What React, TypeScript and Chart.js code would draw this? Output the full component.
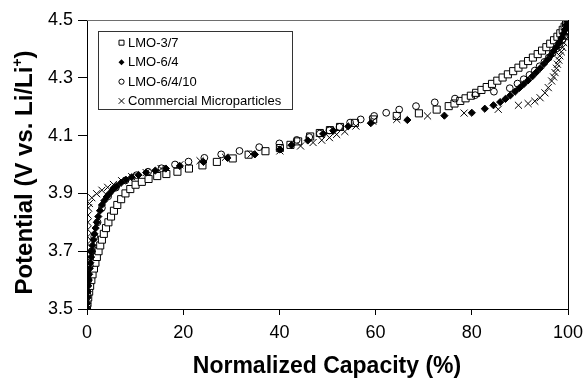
import React, { useEffect, useRef } from "react";
import { Chart, registerables } from "chart.js";

Chart.register(...registerables);

// LMO-3/7 (open squares): [capacity %, potential V]
const lmo37Cap = [0, 0.1, 0.25, 0.45, 0.65, 0.9, 1.15, 1.45, 1.75, 2.05, 2.4, 2.75, 3.1, 3.5, 3.95, 4.45, 5.0, 5.6, 6.3, 7.1, 8.0, 9.0, 10.1, 11.4, 12.8, 14.6, 16.5, 18.8, 21.2, 24.0, 27.0, 30.3, 33.6, 37.1, 40.1, 42.3, 43.9, 46.4, 48.4, 50.5, 52.6, 55.7, 59.5, 64.4, 69.0, 72.7, 75.2, 76.4, 77.6, 78.7, 79.8, 80.9, 82.0, 83.1, 84.2, 85.3, 86.4, 87.5, 88.6, 89.7, 90.7, 91.7, 92.7, 93.7, 94.6, 95.5, 96.3, 97.1, 97.8, 98.4, 98.9, 99.3, 99.6, 99.9];
const lmo37V = [3.5, 3.52, 3.54, 3.56, 3.58, 3.6, 3.62, 3.64, 3.66, 3.68, 3.7, 3.72, 3.74, 3.76, 3.78, 3.8, 3.82, 3.84, 3.86, 3.88, 3.9, 3.915, 3.93, 3.94, 3.95, 3.96, 3.967, 3.975, 3.986, 3.997, 4.009, 4.021, 4.034, 4.046, 4.057, 4.068, 4.08, 4.097, 4.109, 4.119, 4.13, 4.144, 4.156, 4.168, 4.177, 4.19, 4.202, 4.211, 4.22, 4.229, 4.238, 4.248, 4.258, 4.268, 4.279, 4.29, 4.301, 4.312, 4.323, 4.335, 4.346, 4.358, 4.37, 4.382, 4.394, 4.406, 4.418, 4.43, 4.442, 4.454, 4.466, 4.477, 4.488, 4.498];

// LMO-6/4 (filled diamonds)
const lmo64Cap = [0, 0.05, 0.1, 0.18, 0.25, 0.35, 0.45, 0.55, 0.7, 0.85, 1.0, 1.15, 1.35, 1.55, 1.8, 2.05, 2.35, 2.7, 3.1, 3.6, 4.1, 4.7, 5.4, 6.2, 7.1, 8.1, 9.3, 10.7, 12.3, 14.2, 16.4, 19.3, 24.2, 29.2, 34.9, 40.1, 42.5, 45.9, 49.1, 51.2, 54.3, 59.0, 66.6, 74.3, 80.0, 82.7, 84.5, 85.9, 87.0, 88.0, 89.0, 89.9, 90.8, 91.7, 92.6, 93.4, 94.2, 95.0, 95.7, 96.4, 97.0, 97.6, 98.1, 98.6, 99.0, 99.4, 99.7, 99.9];
const lmo64V = [3.5, 3.52, 3.54, 3.56, 3.58, 3.6, 3.62, 3.64, 3.66, 3.68, 3.7, 3.72, 3.74, 3.76, 3.78, 3.8, 3.82, 3.84, 3.86, 3.875, 3.888, 3.9, 3.913, 3.925, 3.937, 3.947, 3.956, 3.964, 3.972, 3.979, 3.986, 3.995, 4.009, 4.023, 4.035, 4.052, 4.067, 4.083, 4.106, 4.117, 4.132, 4.143, 4.154, 4.169, 4.179, 4.193, 4.205, 4.216, 4.227, 4.239, 4.252, 4.265, 4.278, 4.291, 4.305, 4.319, 4.333, 4.348, 4.362, 4.377, 4.392, 4.407, 4.422, 4.437, 4.452, 4.467, 4.482, 4.497];

// LMO-6/4/10 (open circles)
const lmo6410Cap = [0, 0.1, 0.3, 0.6, 1.0, 1.5, 2.2, 3.1, 4.4, 6.0, 8.0, 10.3, 12.7, 15.5, 18.3, 21.1, 24.4, 27.9, 31.7, 35.8, 40.0, 43.6, 46.2, 48.4, 50.4, 52.5, 54.7, 56.9, 59.7, 62.2, 64.9, 68.4, 72.3, 76.5, 80.7, 84.6, 87.9, 89.5, 90.8, 92.0, 93.1, 94.1, 95.1, 96.0, 96.8, 97.5, 98.2, 98.8, 99.3, 99.6, 99.8, 100];
const lmo6410V = [3.5, 3.55, 3.6, 3.65, 3.7, 3.75, 3.8, 3.85, 3.89, 3.92, 3.945, 3.963, 3.975, 3.987, 4.0, 4.01, 4.023, 4.035, 4.047, 4.06, 4.073, 4.085, 4.095, 4.107, 4.118, 4.13, 4.145, 4.156, 4.168, 4.179, 4.19, 4.202, 4.215, 4.228, 4.24, 4.252, 4.264, 4.28, 4.295, 4.31, 4.325, 4.34, 4.355, 4.37, 4.385, 4.4, 4.415, 4.43, 4.445, 4.46, 4.475, 4.49];

// Commercial Microparticles (crosses)
const commCap = [0, 0.01, 0.02, 0.03, 0.04, 0.05, 0.06, 0.07, 0.08, 0.1, 0.12, 0.15, 0.18, 0.22, 0.3, 0.5, 1.0, 2.0, 3.1, 4.3, 5.5, 7.2, 9.3, 12.3, 15.4, 19.3, 23.5, 28.8, 34.1, 40.1, 44.4, 47.0, 48.8, 50.4, 51.9, 53.6, 55.9, 59.4, 64.4, 70.8, 78.4, 85.5, 89.7, 91.7, 93.1, 94.2, 95.2, 95.9, 96.6, 97.0, 97.3, 97.6, 97.8, 98.1, 98.3, 98.6, 98.9, 99.1, 99.4, 99.6, 99.7, 99.9];
const commV = [3.5, 3.525, 3.55, 3.575, 3.6, 3.625, 3.65, 3.675, 3.7, 3.725, 3.75, 3.775, 3.8, 3.825, 3.85, 3.865, 3.885, 3.899, 3.911, 3.921, 3.931, 3.944, 3.958, 3.972, 3.986, 3.999, 4.013, 4.025, 4.036, 4.047, 4.064, 4.076, 4.084, 4.093, 4.104, 4.114, 4.133, 4.15, 4.156, 4.168, 4.178, 4.191, 4.205, 4.211, 4.219, 4.231, 4.248, 4.266, 4.289, 4.303, 4.318, 4.333, 4.347, 4.361, 4.376, 4.39, 4.405, 4.422, 4.44, 4.457, 4.474, 4.492];

const seriesLabels = ["LMO-3/7", "LMO-6/4", "LMO-6/4/10", "Commercial Microparticles"];
const xTickValues = [0, 20, 40, 60, 80, 100];
const yTickValues = [3.5, 3.7, 3.9, 4.1, 4.3, 4.5];
const xTitle = "Normalized Capacity (%)";
const yTitleMain = "Potential (V vs. Li/Li";
const yTitleSup = "+";
const yTitleEnd = ")";

const FONT = "'Liberation Sans', Arial, Helvetica, sans-serif";

function toPoints(xs: number[], ys: number[]) {
  return xs.map((x, i) => ({ x, y: ys[i] }));
}

function drawMarker(ctx: CanvasRenderingContext2D, kind: number, x: number, y: number) {
  ctx.save();
  ctx.strokeStyle = "#000";
  ctx.fillStyle = "#000";
  ctx.lineWidth = 1;
  ctx.beginPath();
  if (kind === 0) {
    ctx.rect(x - 2.5, y - 2.5, 5, 5);
    ctx.fillStyle = "#fff";
    ctx.fill();
    ctx.stroke();
  } else if (kind === 1) {
    ctx.moveTo(x, y - 3);
    ctx.lineTo(x + 3, y);
    ctx.lineTo(x, y + 3);
    ctx.lineTo(x - 3, y);
    ctx.closePath();
    ctx.fill();
  } else if (kind === 2) {
    ctx.arc(x, y, 2.6, 0, Math.PI * 2);
    ctx.stroke();
  } else {
    ctx.moveTo(x - 2.8, y - 2.8);
    ctx.lineTo(x + 2.8, y + 2.8);
    ctx.moveTo(x + 2.8, y - 2.8);
    ctx.lineTo(x - 2.8, y + 2.8);
    ctx.stroke();
  }
  ctx.restore();
}

const decorPlugin = {
  id: "decor",
  afterDraw(chart: any) {
    const ctx: CanvasRenderingContext2D = chart.ctx;
    const a = chart.chartArea;
    ctx.save();
    // top and right frame lines
    ctx.lineWidth = 1;
    ctx.strokeStyle = "#6e6e6e";
    ctx.beginPath();
    ctx.moveTo(a.left, a.top + 0.5);
    ctx.lineTo(a.right, a.top + 0.5);
    ctx.stroke();
    ctx.strokeStyle = "#000";
    ctx.beginPath();
    ctx.moveTo(a.right + 0.5, a.top);
    ctx.lineTo(a.right + 0.5, a.bottom);
    ctx.stroke();

    // legend box
    const bx = 98.5, by = 31.5, bw = 194, bh = 78;
    ctx.fillStyle = "#fff";
    ctx.fillRect(bx, by, bw, bh);
    ctx.strokeStyle = "#333";
    ctx.strokeRect(bx, by, bw, bh);
    const rows = [42.7, 62.2, 81.7, 101];
    ctx.font = `13px ${FONT}`;
    ctx.textBaseline = "middle";
    ctx.textAlign = "left";
    chart.data.datasets.forEach((ds: any, i: number) => {
      drawMarker(ctx, i, 121.5, rows[i]);
      ctx.fillStyle = "#000";
      ctx.fillText(ds.label, 128, rows[i] + 0.5);
    });

    // x title
    ctx.fillStyle = "#000";
    ctx.font = `bold 23px ${FONT}`;
    ctx.textAlign = "center";
    ctx.textBaseline = "alphabetic";
    ctx.fillText(xTitle, 327, 373);

    // y title with superscript
    ctx.translate(32, 172.5);
    ctx.rotate(-Math.PI / 2);
    const mainFont = `bold 24px ${FONT}`;
    const supFont = `bold 14px ${FONT}`;
    ctx.font = mainFont;
    const w1 = ctx.measureText(yTitleMain).width;
    const w3 = ctx.measureText(yTitleEnd).width;
    ctx.font = supFont;
    const w2 = ctx.measureText(yTitleSup).width;
    let sx = -(w1 + w2 + w3) / 2;
    ctx.textAlign = "left";
    ctx.font = mainFont;
    ctx.fillText(yTitleMain, sx, 0);
    sx += w1;
    ctx.font = supFont;
    ctx.fillText(yTitleSup, sx, -10);
    sx += w2;
    ctx.font = mainFont;
    ctx.fillText(yTitleEnd, sx, 0);
    ctx.restore();
  },
};

export default function App() {
  const ref = useRef<HTMLCanvasElement | null>(null);
  useEffect(() => {
    const canvas = ref.current;
    if (!canvas) return;
    const tickFont = { family: FONT, size: 18 };
    const chart = new Chart(canvas, {
      type: "scatter",
      data: {
        datasets: [
          {
            label: seriesLabels[0],
            data: toPoints(lmo37Cap, lmo37V),
            pointStyle: "rect",
            pointRadius: 5,
            borderColor: "#000",
            backgroundColor: "#fff",
            borderWidth: 1,
            order: 4,
          },
          {
            label: seriesLabels[1],
            data: toPoints(lmo64Cap, lmo64V),
            pointStyle: "rectRot",
            pointRadius: 3.6,
            borderColor: "#000",
            backgroundColor: "#000",
            borderWidth: 1,
            order: 3,
          },
          {
            label: seriesLabels[2],
            data: toPoints(lmo6410Cap, lmo6410V),
            pointStyle: "circle",
            pointRadius: 3.4,
            borderColor: "#000",
            backgroundColor: "rgba(0,0,0,0)",
            borderWidth: 1,
            order: 2,
          },
          {
            label: seriesLabels[3],
            data: toPoints(commCap, commV),
            pointStyle: "crossRot",
            pointRadius: 5,
            borderColor: "#000",
            backgroundColor: "#000",
            borderWidth: 1,
            order: 1,
          },
        ],
      },
      options: {
        animation: false,
        responsive: false,
        devicePixelRatio: 1,
        layout: { padding: { top: 20, right: 17, left: 0, bottom: 0 } },
        plugins: { legend: { display: false }, tooltip: { enabled: false } },
        scales: {
          x: {
            type: "linear",
            min: 0,
            max: 100,
            afterBuildTicks: (s: any) => {
              s.ticks = xTickValues.map((v) => ({ value: v }));
            },
            ticks: { font: tickFont, color: "#000", padding: 7, maxRotation: 0, callback: (v: any) => String(v) },
            grid: { drawOnChartArea: false, drawTicks: true, tickLength: 6, tickColor: "#000" },
            border: { color: "#000", width: 1 },
            afterFit: (s: any) => {
              s.height = 69;
              s.paddingLeft = 0;
              s.paddingRight = 0;
            },
          },
          y: {
            type: "linear",
            min: 3.5,
            max: 4.5,
            afterBuildTicks: (s: any) => {
              s.ticks = yTickValues.map((v) => ({ value: v }));
            },
            ticks: { font: tickFont, color: "#000", padding: 5, callback: (v: any) => Number(v).toFixed(1) },
            grid: { drawOnChartArea: false, drawTicks: true, tickLength: 9, tickColor: "#000" },
            border: { color: "#000", width: 1 },
            afterFit: (s: any) => {
              s.width = 87;
              s.paddingTop = 0;
              s.paddingBottom = 0;
            },
          },
        },
      },
      plugins: [decorPlugin],
    } as any);
    return () => chart.destroy();
  }, []);
  return (
    <div style={{ position: "fixed", left: 0, top: 0, width: 585, height: 378, background: "#fff" }}>
      <canvas ref={ref} width={585} height={378} style={{ display: "block", width: 585, height: 378 }} />
    </div>
  );
}
